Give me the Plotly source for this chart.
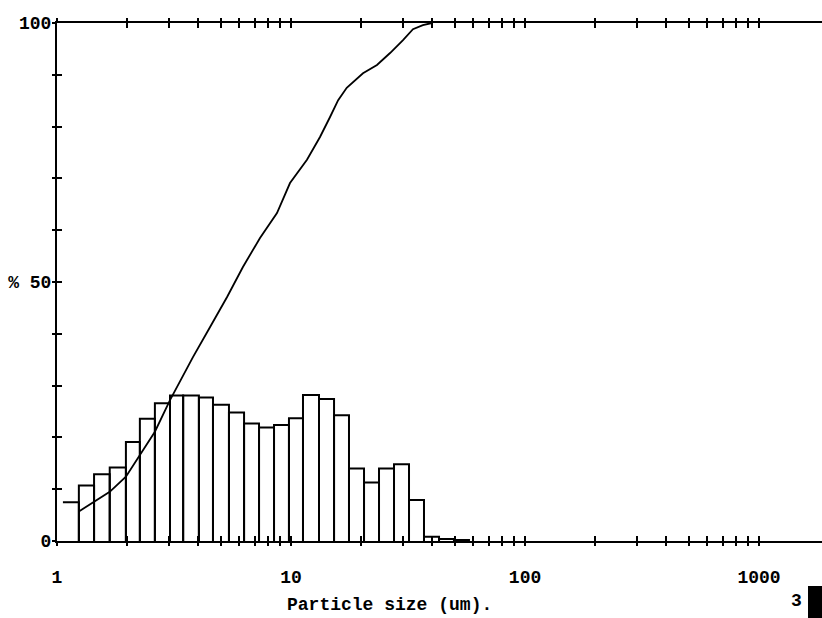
import plotly.graph_objects as go

# ---- data ----
bin_edges = [1.06, 1.24, 1.44, 1.68, 1.97, 2.26, 2.62, 3.04, 3.46, 4.04, 4.64, 5.43,
             6.30, 7.30, 8.46, 9.80, 11.25, 13.17, 15.27, 17.69, 20.51, 23.77, 27.55,
             31.93, 37.0, 42.9, 49.7, 57.6]
bin_heights = [7.5, 10.7, 12.9, 14.2, 19.1, 23.6, 26.6, 28.1, 28.1, 27.7, 26.3, 24.8,
               22.7, 21.9, 22.4, 23.7, 28.2, 27.4, 24.3, 14.0, 11.3, 14.0, 14.8, 7.9,
               0.8, 0.4, 0.2]
cum_x = [1.24, 1.44, 1.68, 1.97, 2.26, 2.62, 3.04, 3.81, 4.51, 5.33, 6.23, 7.37, 8.71,
         9.90, 11.7, 13.3, 14.7, 15.9, 17.3, 20.3, 23.3, 26.5, 30.1, 33.2, 36.6, 40.0]
cum_y = [5.7, 7.6, 9.5, 12.4, 16.6, 21.1, 27.2, 35.5, 41.3, 47.1, 52.9, 58.5, 63.3,
         69.1, 73.6, 78.0, 81.9, 85.1, 87.5, 90.3, 91.9, 94.2, 96.7, 98.8, 99.6, 100]

x_tickvals = [m * d for d in (1, 10, 100) for m in range(1, 10)] + [1000]
x_ticktext = [str(v) if v in (1, 10, 100, 1000) else "" for v in x_tickvals]
y_tickvals = list(range(0, 101, 10))
y_ticktext = ["0", "", "", "", "", "% 50", "", "", "", "", "100"]

x_title = "Particle size (um)."
page_no = "3"

# ---- build histogram outline from data ----
hx, hy = [], []
for i, h in enumerate(bin_heights):
    l, r = bin_edges[i], bin_edges[i + 1]
    if i == 0:
        hx += [l, r, r, None]
        hy += [h, h, 0, None]
    else:
        hx += [l, l, r, r, None]
        hy += [0, h, h, 0, None]

fig = go.Figure()
fig.add_trace(go.Scatter(x=hx, y=hy, mode="lines",
                         line=dict(color="black", width=2), hoverinfo="skip"))
fig.add_trace(go.Scatter(x=cum_x, y=cum_y, mode="lines",
                         line=dict(color="black", width=1.8), hoverinfo="skip"))
# invisible trace for the overlay axes (crossing ticks)
fig.add_trace(go.Scatter(x=[10], y=[50], xaxis="x2", yaxis="y2", mode="markers",
                         marker=dict(opacity=0), hoverinfo="skip"))

xrange = [0, 3.269]
fig.update_layout(
    width=822, height=618,
    margin=dict(l=57, r=0, t=23, b=77),
    plot_bgcolor="white", paper_bgcolor="white",
    showlegend=False,
    font=dict(family="Liberation Mono", size=18, color="black", weight="bold"),
    xaxis=dict(type="log", range=xrange, tickmode="array", tickvals=x_tickvals,
               ticktext=x_ticktext, ticks="inside", ticklen=5, tickwidth=2,
               tickcolor="black", showline=True, linewidth=2, linecolor="black",
               mirror="ticks", showgrid=False, zeroline=False,
               ticklabelstandoff=18, tickangle=0),
    xaxis2=dict(type="log", range=xrange, overlaying="x", anchor="y", side="bottom",
                tickmode="array", tickvals=x_tickvals, ticks="outside", ticklen=4,
                tickwidth=2, tickcolor="black", showticklabels=False,
                showline=False, mirror="ticks", showgrid=False, zeroline=False),
    yaxis=dict(range=[0, 100], tickmode="array", tickvals=y_tickvals,
               ticktext=y_ticktext, ticks="inside", ticklen=5, tickwidth=2,
               tickcolor="black", showline=True, linewidth=2, linecolor="black",
               mirror=False, showgrid=False, zeroline=False),
    yaxis2=dict(range=[0, 100], overlaying="y", anchor="x", side="left",
                tickmode="array", tickvals=y_tickvals, ticks="outside", ticklen=4,
                tickwidth=2, tickcolor="black", showticklabels=False,
                showline=False, showgrid=False, zeroline=False),
    annotations=[
        dict(text=x_title, xref="paper", yref="paper", x=0.435, y=-0.1236,
             showarrow=False, xanchor="center", yanchor="middle",
             font=dict(size=18)),
        dict(text=page_no, xref="paper", yref="paper", x=0.967, y=-0.1158,
             showarrow=False, xanchor="center", yanchor="middle",
             font=dict(size=18)),
    ],
    shapes=[
        dict(type="rect", xref="paper", yref="paper", x0=0.9817, x1=1.01,
             y0=-0.0869, y1=-0.16, fillcolor="black", line=dict(width=0)),
    ],
)

fig.write_html(
    "out.html",
    config={"displayModeBar": False},
    post_script="document.body.style.margin='0';document.body.style.overflow='hidden';",
)
